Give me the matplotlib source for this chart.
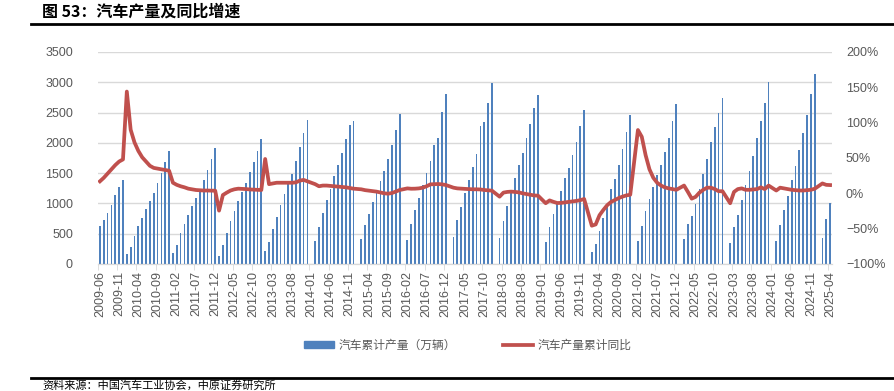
import numpy as np
import pandas as pd
import matplotlib.pyplot as plt
from matplotlib.lines import Line2D
from matplotlib.patches import Patch

plt.rcParams['font.family'] = ['Liberation Sans', 'Noto Sans CJK SC', 'DejaVu Sans']

nan = np.nan

# 2009-06 .. 2025-04, cumulative output (10k units); Jan missing from 2014 on
output = [
    627, 731, 847, 979, 1133, 1276, 1380,                                  # 2009 (Jun-Dec)
    165, 286, 462, 627, 765, 908, 1045, 1177, 1337, 1496, 1678, 1859,       # 2010
    187, 314, 506, 660, 809, 957, 1084, 1210, 1392, 1551, 1733, 1914,       # 2011
    138, 315, 508, 702, 878, 1033, 1182, 1337, 1525, 1691, 1873, 2061,      # 2012
    215, 359, 586, 780, 972, 1149, 1354, 1492, 1707, 1928, 2155, 2376,      # 2013
    nan, 387, 619, 840, 1050, 1232, 1448, 1630, 1840, 2061, 2293, 2359,     # 2014
    nan, 414, 652, 829, 1022, 1182, 1376, 1541, 1735, 1961, 2210, 2475,     # 2015
    nan, 403, 663, 884, 1094, 1298, 1497, 1702, 1961, 2077, 2514, 2807,     # 2016
    nan, 453, 729, 945, 1166, 1387, 1597, 1812, 2271, 2337, 2658, 2984,     # 2017
    nan, 437, 707, 950, 1204, 1420, 1630, 1834, 2077, 2309, 2575, 2790,     # 2018
    nan, 365, 619, 818, 1000, 1210, 1425, 1580, 1801, 2022, 2276, 2541,     # 2019
    nan, 193, 337, 553, 757, 994, 1243, 1398, 1641, 1895, 2171, 2453,       # 2020
    nan, 387, 635, 867, 1066, 1271, 1464, 1630, 1851, 2083, 2359, 2641,     # 2021
    nan, 420, 663, 785, 983, 1243, 1492, 1729, 2006, 2260, 2486, 2735,      # 2022
    nan, 354, 619, 812, 1050, 1304, 1530, 1785, 2077, 2354, 2652, 3000,     # 2023
    nan, 376, 652, 890, 1122, 1387, 1613, 1879, 2160, 2459, 2801, 3144,     # 2024
    nan, 437, 740, 1000,                                                    # 2025 (Jan-Apr)
]

# cumulative yoy, %
yoy = [
    17, 22, 28, 34, 40, 45, 48,
    144, 90, 72, 60, 51, 45, 39, 36, 35, 34, 33, 32,
    15, 12, 10, 8.5, 6.6, 5.7, 4.7, 4.3, 4, 4, 3.8, 3.8,
    -24.5, -2.4, 1, 4, 5.7, 6.6, 6.3, 6, 5.5, 5.2, 5, 4.7,
    48.6, 13, 14, 15, 15, 15, 15, 15, 15.5, 18, 19, 17,
    nan, 13, 10, 11, 11, 10.5, 10, 9.4, 9, 8.5, 7.5, 6.6,
    nan, 5.7, 4.5, 3.8, 3, 2.4, 1.2, 0, -0.5, 0.5, 2.5, 4.7,
    nan, 7, 6.5, 6.6, 7, 8, 10, 12.7, 13, 13.2, 12.7, 11.8,
    nan, 8, 7, 6.6, 6.3, 6, 5.7, 5.7, 5.5, 4.7, 4.3, 3.8,
    nan, -4.7, 1, 2, 2.4, 2, 1.4, 0, -1, -2, -3, -3.3,
    nan, -14, -10, -12, -13.7, -13.5, -12.8, -12, -11.4, -10.7, -9.7, -8,
    nan, -45.8, -44, -31, -23.5, -16.8, -12.2, -9.4, -6.7, -4.6, -2.9, -2,
    nan, 89.6, 80, 54, 34, 22, 15, 11, 8.5, 7, 6, 5,
    nan, 11, 2, -7.5, -5, 1, 5, 8, 8, 6, 3, 3,
    nan, -14, 2, 6, 7, 5, 5, 5.5, 6, 8.5, 6, 11,
    nan, 4, 8, 7, 6, 5, 4.5, 4, 4, 4.5, 5, 6.5,
    nan, 14, 12, 11.7,
]

months = pd.period_range('2009-06', '2025-04', freq='M').strftime('%Y-%m')

output = np.array(output, dtype=float)
yoy = np.array(yoy, dtype=float)
x = np.arange(len(months))

gray = '#595959'
fig = plt.figure(figsize=(8.95, 3.91), dpi=100)
ax = fig.add_axes([98 / 895, 1 - 264 / 391, 734 / 895, 212 / 391])
ax2 = ax.twinx()

ax.bar(x, output, width=0.45, color='#4F81BD', zorder=2)
ax.set_ylim(0, 3500)
ax.set_yticks(range(0, 3501, 500))
ax.grid(axis='y', color='#D9D9D9', linewidth=1)
ax.set_axisbelow(True)
ax.set_xlim(-0.5, len(months) - 0.5)

ax.set_xticks(x[::5])
ax.set_xticklabels(months[::5], rotation=90, fontsize=9, color=gray)
ax.tick_params(axis='x', length=0, pad=5)
ax.set_xticks(np.arange(-0.5, len(months), 5), minor=True)
ax.tick_params(axis='x', which='minor', length=4, color='#D9D9D9')
ax.tick_params(axis='y', length=0, labelsize=9, labelcolor=gray, pad=18)

m = ~np.isnan(yoy)
ax2.plot(x[m], yoy[m], color='#C0504D', linewidth=2.7, solid_joinstyle='round')
ax2.set_ylim(-100, 200)
ax2.set_yticks(range(-100, 201, 50))
ax2.set_yticklabels([f'{v}%'.replace('-', '\u2212') for v in range(-100, 201, 50)])
ax2.tick_params(axis='y', length=0, labelsize=9, labelcolor=gray, pad=10)

for a in (ax, ax2):
    for s in ('top', 'left', 'right'):
        a.spines[s].set_visible(False)
    a.spines['bottom'].set_color('#D9D9D9')

handles = [Patch(color='#4F81BD'), Line2D([], [], color='#C0504D', linewidth=2.7)]
fig.legend(handles, ['汽车累计产量（万辆）', '汽车产量累计同比'], loc='center',
           bbox_to_anchor=(0.523, 1 - 345 / 391), ncol=2, frameon=False,
           prop={'family': ['Noto Sans CJK SC'], 'size': 8.5}, labelcolor=gray,
           handlelength=2.5, handleheight=0.5, columnspacing=4, handletextpad=0.4)

fig.text(42 / 895, 1 - 12 / 391, '图 53：汽车产量及同比增速', fontsize=11.5, fontweight='bold',
         family=['Noto Sans CJK SC'], va='center', ha='left')
fig.add_artist(Line2D([31 / 895, 1], [1 - 23.5 / 391] * 2, color='black', linewidth=2))
fig.add_artist(Line2D([31 / 895, 1], [1 - 378 / 391] * 2, color='black', linewidth=2))
fig.text(42 / 895, 1 - 385 / 391, '资料来源：中国汽车工业协会，中原证券研究所', fontsize=8,
         family=['Noto Sans CJK SC'], va='center', ha='left')

fig.savefig('out.png', dpi=100)
